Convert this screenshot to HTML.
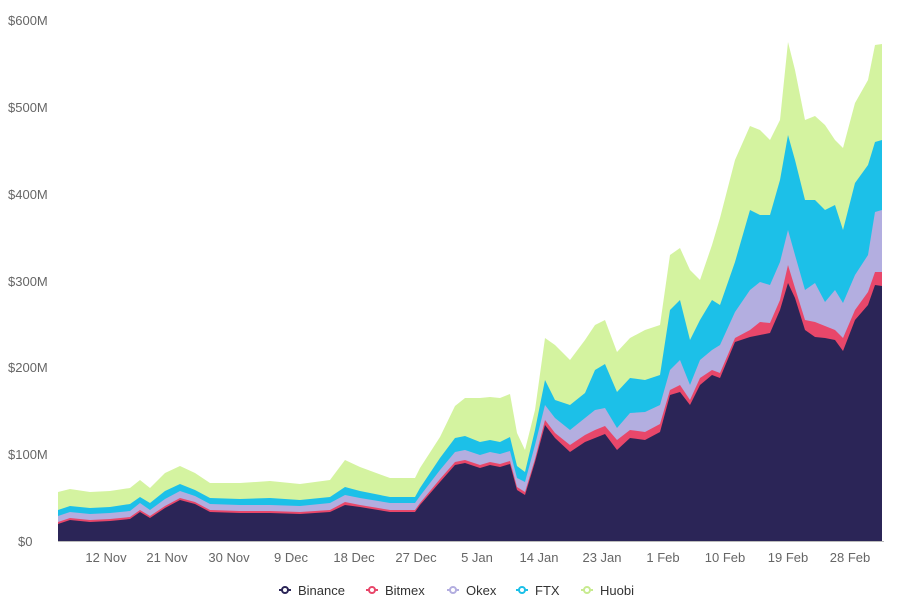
<!DOCTYPE html>
<html><head><meta charset="utf-8"><style>
body{margin:0;background:#fff;width:900px;height:606px;overflow:hidden;font-family:"Liberation Sans",sans-serif;}
svg text{font-family:"Liberation Sans",sans-serif;font-size:13px;fill:#666;}
svg .lg text{fill:#333;}
</style></head><body>
<svg width="900" height="606" xmlns="http://www.w3.org/2000/svg">
<g id="areas"></g>
<line x1="58" y1="541.5" x2="884" y2="541.5" stroke="#bbb" stroke-width="1"/>
<g text-anchor="start">
<text x="8" y="25">$600M</text><text x="8" y="112">$500M</text><text x="8" y="199">$400M</text>
<text x="8" y="286">$300M</text><text x="8" y="372">$200M</text><text x="8" y="459">$100M</text><text x="18" y="546">$0</text>
</g>
<g text-anchor="middle">
<text x="106" y="562">12 Nov</text><text x="167" y="562">21 Nov</text><text x="229" y="562">30 Nov</text>
<text x="291" y="562">9 Dec</text><text x="354" y="562">18 Dec</text><text x="416" y="562">27 Dec</text>
<text x="477" y="562">5 Jan</text><text x="539" y="562">14 Jan</text><text x="602" y="562">23 Jan</text>
<text x="663" y="562">1 Feb</text><text x="725" y="562">10 Feb</text><text x="788" y="562">19 Feb</text><text x="850" y="562">28 Feb</text>
</g>
<g class="lg" stroke-width="2">
<line x1="279" y1="590" x2="291" y2="590" stroke="#2b2557"/><circle cx="285" cy="590" r="3" fill="#fff" stroke="#2b2557"/><text x="298" y="595" stroke="none">Binance</text>
<line x1="366" y1="590" x2="378" y2="590" stroke="#e8476a"/><circle cx="372" cy="590" r="3" fill="#fff" stroke="#e8476a"/><text x="385" y="595" stroke="none">Bitmex</text>
<line x1="447" y1="590" x2="459" y2="590" stroke="#b3aee0"/><circle cx="453" cy="590" r="3" fill="#fff" stroke="#b3aee0"/><text x="466" y="595" stroke="none">Okex</text>
<line x1="516" y1="590" x2="528" y2="590" stroke="#1cc0e8"/><circle cx="522" cy="590" r="3" fill="#fff" stroke="#1cc0e8"/><text x="535" y="595" stroke="none">FTX</text>
<line x1="581" y1="590" x2="593" y2="590" stroke="#c8eb90"/><circle cx="587" cy="590" r="3" fill="#fff" stroke="#c8eb90"/><text x="600" y="595" stroke="none">Huobi</text>
</g>
</svg>
<script>
var d=[[58,524,522,516,510,492],[70,520,518,512,506,489],[90,522,520,514,508,492],[110,521,519,513,507,491],[130,519,517,511,504,488],[140,512,510,503,497,480],[150,518,516,510,503,488],[165,508,506,499,491,473],[180,500,498,491,484,466],[195,504,502,496,490,473],[210,512,510,504,498,483],[240,513,511,505,499,483],[270,513,511,505,498,481],[300,514,512,506,500,484],[330,512,510,503,497,480],[345,505,502,495,487,460],[360,507,505,498,491,467],[390,512,510,503,497,478],[415,512,510,503,497,478],[420,505,503,496,488,468],[440,482,479,470,458,437],[455,465,462,452,438,406],[465,463,460,450,436,398],[480,468,465,455,442,398],[490,465,462,452,440,397],[500,467,464,454,442,398],[510,464,461,451,437,394],[517,490,487,478,466,433],[525,495,492,482,472,450],[535,462,459,445,430,410],[545,425,420,405,380,338],[555,438,433,418,400,345],[570,452,445,430,405,360],[585,442,435,418,393,340],[595,438,430,410,370,325],[605,434,426,408,364,320],[617,450,440,428,392,352],[630,438,430,413,378,338],[645,440,432,412,380,330],[660,432,424,405,375,325],[670,395,390,370,310,255],[680,392,385,360,300,248],[690,405,400,385,340,270],[700,385,378,360,320,280],[712,375,370,350,300,245],[720,378,373,345,305,218],[735,342,338,312,262,160],[750,337,330,290,210,126],[760,335,322,282,215,130],[770,333,323,285,215,140],[780,310,300,262,180,120],[788,283,265,230,135,42],[795,298,288,255,160,70],[805,330,320,290,200,120],[815,337,322,283,200,116],[825,338,326,302,210,125],[835,340,330,290,205,140],[843,351,338,303,230,148],[855,320,310,275,183,103],[868,305,292,255,165,80],[875,285,272,212,142,45],[882,286,272,210,140,44]];
var cols=["#2b2557","#e8476a","#b3aee0","#1cc0e8","#d4f3a0"];
var g=document.getElementById("areas"),h="";
for(var k=4;k>=0;k--){var p="M58,541";d.forEach(function(r){p+=" L"+r[0]+","+r[k+1];});p+=" L882,541 Z";h+='<path d="'+p+'" fill="'+cols[k]+'"/>';}
g.innerHTML=h;
</script>
</body></html>
